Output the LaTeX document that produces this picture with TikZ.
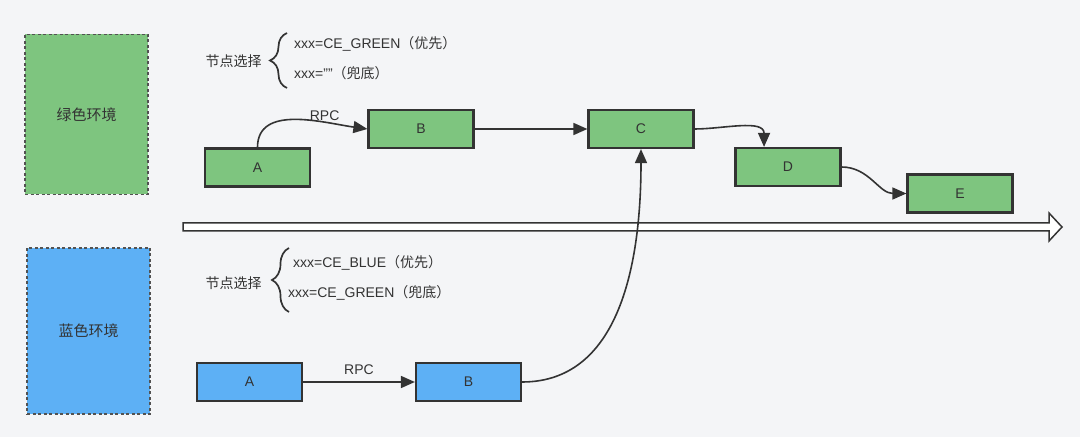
\documentclass[tikz,border=0pt]{standalone}
\usepackage{fontspec}
\setmainfont{Liberation Sans}
\newfontfamily\cjk{Noto Sans CJK SC}
\usetikzlibrary{arrows.meta,decorations.pathreplacing}

\definecolor{bggray}{HTML}{F4F5F7}
\definecolor{envgreen}{HTML}{7EC57F}
\definecolor{envblue}{HTML}{5DB0F5}
\definecolor{ink}{HTML}{333333}

\begin{document}
\begin{tikzpicture}[
    x=1pt, y=1pt,
    font=\fontsize{14}{16}\selectfont,
    text=ink,
    env/.style={draw=ink!85, dash pattern=on 3pt off 2.5pt, line width=1.3pt, minimum width=123pt, inner sep=0pt, font=\cjk\fontsize{15}{17}\selectfont},
    block/.style={draw=ink, line width=2.2pt, minimum width=105pt, minimum height=38pt, inner sep=0pt},
    gblock/.style={block, fill=envgreen},
    bblock/.style={block, fill=envblue},
    arrow/.style={-{Triangle[length=14pt,width=12pt]}, draw=ink, line width=1.6pt},
    brace/.style={draw=ink, line width=1.7pt, decorate, decoration={brace, amplitude=17pt}},
    choice/.style={anchor=west, inner sep=0pt}
]

% background
\fill[bggray] (0,0) rectangle (1080,437);

% ====================
%    Green Env
% ====================

\node[env, fill=envgreen, minimum height=160pt] (green_env) at (86.5,322.5) {绿色环境};

% Node selection
\node[font=\cjk\fontsize{14}{16}\selectfont] (green_sel) at (233.5,376) {节点选择};
\draw[brace] (287,349) -- (287,404);
\node[choice] (green_pri) at (294,393) {xxx=CE\_GREEN{\cjk （优先）}};
\node[choice] (green_fb) at (294,364) {xxx=""{\cjk （兜底）}};

% Nodes
\node[gblock] (ga) at (257.5,269.5) {A};
\node[gblock] (gb) at (421,308) {B};
\node[gblock] (gc) at (641,308) {C};
\node[gblock] (gd) at (788,270) {D};
\node[gblock] (ge) at (960,243.5) {E};

% Connections
\draw[arrow] (ga.north) to[out=90, in=172] node[pos=0.7, above=-3pt] {RPC} (gb.west);
\draw[arrow] (gb.east) -- (gc.west);
\draw[arrow] (gc.east) to[out=0, in=90] (gd.140);
\draw[arrow] (gd.east) to[out=0, in=180] (ge.west);

% time line
\draw[ink, line width=1.5pt, fill=white] (183,206) -- (1049,206) -- (1049,196) -- (1062,210)
    -- (1049,224) -- (1049,214) -- (183,214) -- cycle;

% ====================
%    Blue Env
% ====================

\node[env, fill=envblue, minimum height=166pt] (blue_env) at (88.5,106) {蓝色环境};

% Node selection
\node[font=\cjk\fontsize{14}{16}\selectfont] (blue_sel) at (233.5,154) {节点选择};
\draw[brace] (289,125) -- (289,189);
\node[choice] (blue_pri) at (293,174) {xxx=CE\_BLUE{\cjk （优先）}};
\node[choice] (blue_fb) at (288,144) {xxx=CE\_GREEN{\cjk （兜底）}};

% Nodes
\node[bblock] (ba) at (249.5,55) {A};
\node[bblock] (bb) at (468.5,55) {B};

% Connections
\draw[arrow] (ba.east) -- node[above=3pt] {RPC} (bb.west);
\draw[arrow] (bb.east) to[out=0, in=-90] (gc.south);

\end{tikzpicture}
\end{document}
